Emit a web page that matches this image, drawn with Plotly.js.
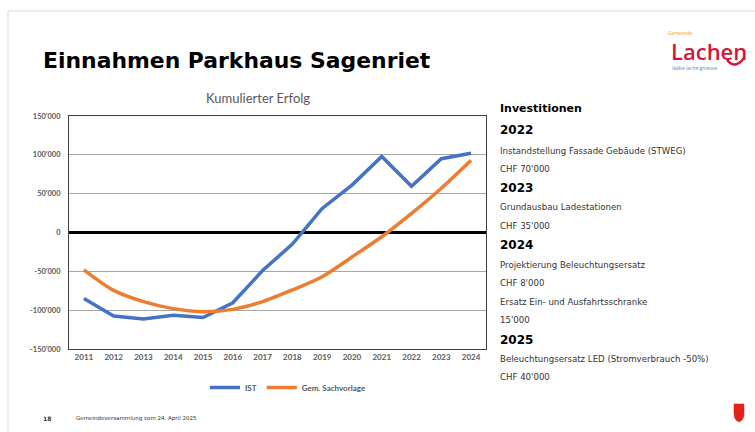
<!DOCTYPE html>
<html>
<head>
<meta charset="utf-8">
<script src="https://cdn.plot.ly/plotly-3.0.1.min.js"></script>
<style>html,body{margin:0;padding:0;background:#fff;}#chart{width:755px;height:432px;}</style>
</head>
<body>
<div id="chart"></div>
<script>
// ---- data ----
const years = ["2011","2012","2013","2014","2015","2016","2017","2018","2019","2020","2021","2022","2023","2024"];
const ist = [-85000,-107500,-111500,-106500,-109500,-90500,-49000,-15000,31000,61000,98000,59500,95000,102000];
const sachvorlage = [-48000,-74500,-89000,-98000,-102000,-99000,-89000,-74000,-57000,-31500,-5500,24500,57000,93000];
const yTickVals = [-150000,-100000,-50000,0,50000,100000,150000];
const yTickText = ["-150'000","-100'000","-50'000","0","50'000","100'000","150'000"];
const sideTexts = [
  ["Investitionen","h1"],["2022","h2"],["Instandstellung Fassade Gebäude (STWEG)","t"],["CHF 70'000","t"],
  ["2023","h2"],["Grundausbau Ladestationen","t"],["CHF 35'000","t"],
  ["2024","h2"],["Projektierung Beleuchtungsersatz","t"],["CHF 8'000","t"],["Ersatz Ein- und Ausfahrtsschranke","t"],["15'000","t"],
  ["2025","h2"],["Beleuchtungsersatz LED (Stromverbrauch -50%)","t"],["CHF 40'000","t"]
];
const sideY = [108,130,151,169,188,207,226,245,265,283,302,320,340,359,377];

// ---- layout helpers (pixel -> paper) ----
const L=69, R=486, T=116, B=349;
const px = x => (x-L)/(R-L);
const py = y => (B-y)/(B-T);

const annotations = [];
sideTexts.forEach((s,i)=>{
  const f = s[1]==="h1" ? {size:11,color:"#000",family:"DejaVu Sans"} :
            s[1]==="h2" ? {size:12,color:"#000",family:"DejaVu Sans"} :
                          {size:8.6,color:"#333",family:"DejaVu Sans"};
  const txt = s[1]==="t" ? s[0] : "<b>"+s[0]+"</b>";
  annotations.push({text:txt,xref:"paper",yref:"paper",x:px(498),y:py(sideY[i]),xanchor:"left",yanchor:"middle",showarrow:false,font:f});
});
annotations.push({text:"<b>Einnahmen Parkhaus Sagenriet</b>",xref:"paper",yref:"paper",x:px(41),y:py(60),xanchor:"left",yanchor:"middle",showarrow:false,font:{family:"DejaVu Sans",size:21.9,color:"#000"}});
annotations.push({text:"Kumulierter Erfolg",xref:"paper",yref:"paper",x:px(258),y:py(98),xanchor:"center",yanchor:"middle",showarrow:false,font:{family:"Lato",size:13,color:"#595959"}});
annotations.push({text:"<b>18</b>",xref:"paper",yref:"paper",x:px(41),y:py(418),xanchor:"left",yanchor:"middle",showarrow:false,font:{family:"DejaVu Sans",size:6,color:"#333"}});
annotations.push({text:"Gemeindeversammlung vom 24. April 2025",xref:"paper",yref:"paper",x:px(74),y:py(418),xanchor:"left",yanchor:"middle",showarrow:false,font:{family:"DejaVu Sans",size:5.5,color:"#333"}});
annotations.push({text:"Gemeinde",xref:"paper",yref:"paper",x:px(667),y:py(33),xanchor:"left",yanchor:"middle",showarrow:false,borderpad:0,font:{family:"Open Sans",size:5,color:"#f0a020"}});
annotations.push({text:"Lachen",xref:"paper",yref:"paper",x:px(670),y:py(51),xanchor:"left",yanchor:"middle",showarrow:false,borderpad:0,font:{family:"Open Sans",size:22,color:"#d4143c",weight:600}});
annotations.push({text:"lääbe lache gniesse",xref:"paper",yref:"paper",x:px(671),y:py(68),xanchor:"left",yanchor:"middle",showarrow:false,borderpad:0,font:{family:"Open Sans",size:5,color:"#4a90c8"}});

const shapes = [
  {type:"line",xref:"paper",yref:"paper",x0:px(8),x1:px(755),y0:py(11),y1:py(11),line:{color:"#d9d9d9",width:1}},
  {type:"line",xref:"paper",yref:"paper",x0:px(8),x1:px(8),y0:py(11),y1:py(432),line:{color:"#d9d9d9",width:1}},
  {type:"path",xref:"paper",yref:"paper",
   path:`M ${px(734)} ${py(404)} L ${px(744)} ${py(404)} L ${px(744)} ${py(414)} Q ${px(744)} ${py(420)} ${px(739)} ${py(422)} Q ${px(734)} ${py(420)} ${px(734)} ${py(414)} Z`,
   fillcolor:"#e2231a",line:{color:"#e2231a",width:0.5}},
  {type:"path",xref:"paper",yref:"paper",
   path:`M ${px(727)} ${py(60)} Q ${px(735)} ${py(70)} ${px(744)} ${py(58)}`,
   line:{color:"#d4143c",width:2.5}}
];

const data = [
  {x:years,y:ist,type:"scatter",mode:"lines",name:"IST",line:{color:"#4472C4",width:3.5}},
  {x:years,y:sachvorlage,type:"scatter",mode:"lines",name:"Gem. Sachvorlage",line:{color:"#ED7D31",width:3.5,shape:"spline",smoothing:0.8}}
];

const layout = {
  width:755,height:432,
  margin:{l:L,r:755-R,t:T,b:432-B,pad:0},
  paper_bgcolor:"#fff",plot_bgcolor:"#fff",
  showlegend:true,
  legend:{orientation:"h",x:px(205),y:py(373),xanchor:"left",yanchor:"top",font:{family:"Lato",size:8,color:"#595959",weight:"bold"},itemwidth:30,tracegroupgap:0,bgcolor:"rgba(0,0,0,0)"},
  xaxis:{type:"category",range:[-0.5,13.5],showgrid:false,zeroline:false,showline:true,mirror:true,linecolor:"#404040",linewidth:1,
         ticks:"",tickfont:{family:"Lato",size:8,color:"#595959",weight:"bold"},fixedrange:true},
  yaxis:{range:[-150000,150000],tickvals:yTickVals,ticktext:yTickText,showgrid:true,gridcolor:"#a6a6a6",gridwidth:1,
         zeroline:true,zerolinecolor:"#000",zerolinewidth:2.5,showline:true,mirror:true,linecolor:"#404040",linewidth:1,
         ticks:"",ticklabelstandoff:6,tickfont:{family:"Lato",size:7.5,color:"#595959",weight:"bold"},fixedrange:true},
  annotations:annotations,
  shapes:shapes
};
Plotly.newPlot("chart",data,layout,{displayModeBar:false,staticPlot:true});
</script>
</body>
</html>
